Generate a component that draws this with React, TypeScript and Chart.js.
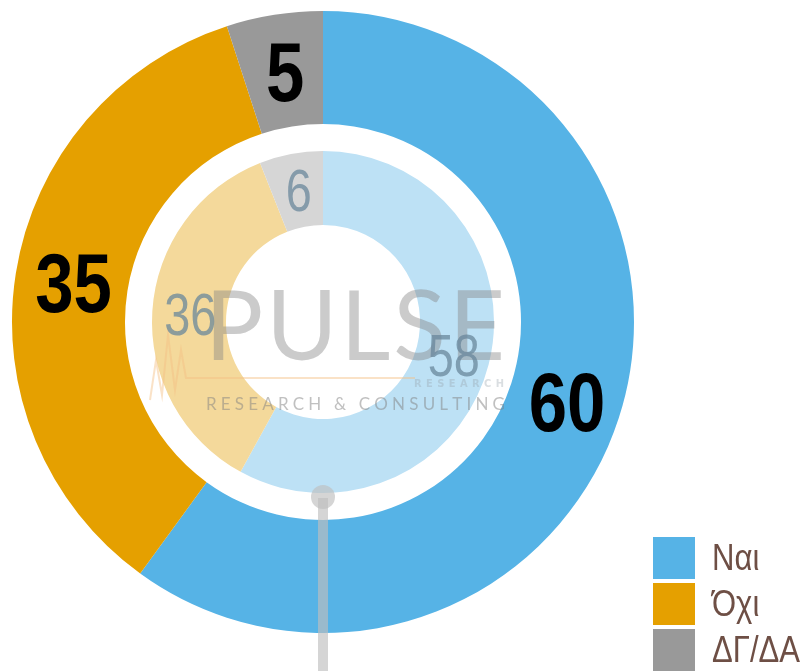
import React, { useEffect, useRef } from "react";
import { Chart, registerables } from "chart.js";

Chart.register(...registerables);

const categories = ["Ναι", "Όχι", "ΔΓ/ΔΑ"];
const outerValues = [60, 35, 5];
const innerValues = [58, 36, 6];
const outerColors = ["#56b3e6", "#e5a000", "#999999"];
const innerColors = ["#bde1f5", "#f4d99b", "#d6d6d6"];

const W = 808;
const H = 671;

const labelPlugin = {
  id: "ringLabels",
  afterDatasetsDraw(chart: any) {
    const ctx = chart.ctx;
    const area = chart.chartArea;
    const cx = (area.left + area.right) / 2;

    // watermark
    ctx.save();
    ctx.strokeStyle = "rgba(245,190,130,0.45)";
    ctx.lineWidth = 2;
    ctx.beginPath();
    ctx.moveTo(150, 400);
    ctx.lineTo(156, 360);
    ctx.lineTo(162, 395);
    ctx.lineTo(168, 335);
    ctx.lineTo(175, 390);
    ctx.lineTo(181, 350);
    ctx.lineTo(186, 378);
    ctx.lineTo(415, 378);
    ctx.stroke();

    ctx.textBaseline = "alphabetic";
    ctx.textAlign = "left";
    const drawSpread = (text: string, x0: number, x1: number, y: number) => {
      const chars = Array.from(text);
      const widths = chars.map((c) => ctx.measureText(c).width);
      const total = widths.reduce((a, b) => a + b, 0);
      const gap = (x1 - x0 - total) / (chars.length - 1);
      let x = x0;
      chars.forEach((c, i) => {
        ctx.fillText(c, x, y);
        x += widths[i] + gap;
      });
    };
    ctx.fillStyle = "rgba(130,130,130,0.42)";
    ctx.font = "400 97px Lato, 'DejaVu Sans'";
    drawSpread("PULSE", 205, 505, 360);
    ctx.font = "17px Lato, 'DejaVu Sans'";
    ctx.fillStyle = "rgba(130,130,130,0.5)";
    drawSpread("RESEARCH & CONSULTING", 206, 505, 410);
    ctx.font = "bold 11px 'DejaVu Sans Condensed', 'DejaVu Sans'";
    ctx.fillStyle = "rgba(150,160,170,0.35)";
    drawSpread("RESEARCH", 414, 504, 387);
    ctx.restore();

    // pointer line and dot
    ctx.save();
    ctx.fillStyle = "rgba(190,190,190,0.65)";
    ctx.fillRect(cx - 5, 498, 10, H - 498);
    ctx.beginPath();
    ctx.arc(cx, 497, 12, 0, Math.PI * 2);
    ctx.fill();
    ctx.restore();

    const drawNarrow = (text: string, x: number, y: number, sx: number) => {
      ctx.save();
      ctx.translate(x, y);
      ctx.scale(sx, 1);
      ctx.fillText(text, 0, 0);
      ctx.restore();
    };

    // value labels
    ctx.save();
    ctx.textAlign = "center";
    ctx.textBaseline = "alphabetic";
    const outerMeta = chart.getDatasetMeta(0);
    ctx.font = "bold 84px 'Liberation Sans', Arial, sans-serif";
    ctx.fillStyle = "#000000";
    outerMeta.data.forEach((arc: any, i: number) => {
      const p = arc.tooltipPosition();
      drawNarrow(String(outerValues[i]), p.x + 2, p.y + 30, 0.82);
    });
    const innerMeta = chart.getDatasetMeta(2);
    ctx.font = "60px 'Liberation Sans', Arial, sans-serif";
    ctx.fillStyle = "rgba(105,135,155,0.75)";
    innerMeta.data.forEach((arc: any, i: number) => {
      const p = arc.tooltipPosition();
      drawNarrow(String(innerValues[i]), p.x + 1, p.y + 21, 0.78);
    });
    ctx.restore();
  },
};

export default function App() {
  const ref = useRef<HTMLCanvasElement | null>(null);
  useEffect(() => {
    if (!ref.current) return;
    const chart = new Chart(ref.current, {
      type: "doughnut",
      data: {
        labels: categories,
        datasets: [
          {
            data: outerValues,
            backgroundColor: outerColors,
            borderWidth: 0,
            weight: 113,
          },
          {
            data: [1],
            backgroundColor: ["rgba(0,0,0,0)"],
            borderWidth: 0,
            weight: 27,
          },
          {
            data: innerValues,
            backgroundColor: innerColors,
            borderWidth: 0,
            weight: 74,
          },
        ],
      },
      options: {
        responsive: false,
        devicePixelRatio: 1,
        animation: false,
        cutout: "31.2%",
        layout: { padding: { left: 12, top: 11, right: 174, bottom: 38 } },
        plugins: {
          legend: { display: false },
          tooltip: { enabled: false },
        },
      },
      plugins: [labelPlugin],
    });
    return () => chart.destroy();
  }, []);

  const legendFont = "'Liberation Sans', Arial, sans-serif";
  return (
    <div style={{ position: "absolute", left: 0, top: 0, width: W, height: H, overflow: "hidden", background: "#ffffff" }}>
      <canvas ref={ref} width={W} height={H} style={{ display: "block" }} />
      <div style={{ position: "absolute", left: 653, top: 537 }}>
        {categories.map((c, i) => (
          <div key={c} style={{ display: "flex", alignItems: "center", height: 42, marginBottom: 4 }}>
            <div style={{ width: 42, height: 42, background: outerColors[i], flex: "none" }} />
            <span
              style={{
                marginLeft: 17,
                fontFamily: legendFont,
                fontSize: 37,
                color: "#6e4f45",
                lineHeight: "42px",
                whiteSpace: "nowrap",
                display: "inline-block",
                transform: "scaleX(0.84)",
                transformOrigin: "left center",
              }}
            >
              {c}
            </span>
          </div>
        ))}
      </div>
    </div>
  );
}
